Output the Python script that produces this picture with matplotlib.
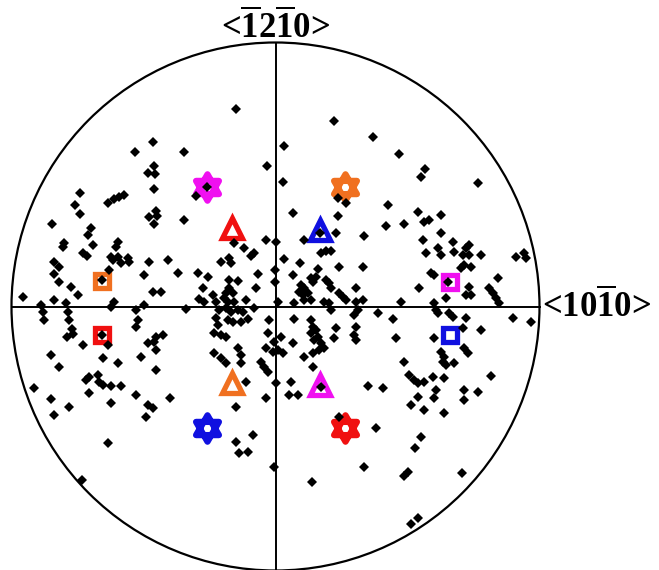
import numpy as np
import matplotlib.pyplot as plt
from matplotlib.path import Path
from matplotlib.patches import Circle

## pole figure, projection units (primitive circle radius R) ##
R = 264

# measured poles, upper half
poles_upper = [
    (-40,198),(-123,165),(-141,155),(-92,155),(-9,141),(-122,141),(-128,134),(-121,133),
    (-122,118),(-80,111),(-196,114),(-152,112),(-157,110),(-162,108),(-168,104),(-201,102),
    (-196,93),(-120,96),(-127,90),(-119,91),(-122,83),(-92,87),(-224,83),(-185,79),
    (-188,72),(-212,64),(-213,60),(-183,62),(-193,54),(-189,51),(-158,65),(-160,60),
    (-165,50),(-158,50),(-163,47),(-148,49),(-155,44),(-147,45),(-167,37),(-222,45),
    (-217,40),(-222,33),(-217,25),(-205,20),(-198,12),(-253,10),(-222,7),(-210,4),
    (-162,5),(-165,0),(-235,2),(-69,120),(-174,27),
    (-42,64),(-32,59),(-22,54),(-25,51),(-10,67),(-55,45),(-47,49),(-45,44),(-127,45),
    (-108,47),(-98,34),(-78,34),(-68,30),(-132,32),(-18,33),(-47,27),(-38,26),(-47,19),
    (-50,14),(-43,14),(-52,9),(-73,19),(-123,15),(-115,15),(-20,19),(-77,8),(-72,5),
    (-63,12),(-60,5),(-48,5),(-42,5),(-30,7),(-132,2),
    (28,67),(60,74),(88,71),(45,54),(50,56),(55,56),(0,65),(8,48),(24,44),(63,40),(87,40),
    (17,32),(42,38),(35,29),(40,30),(37,25),(50,27),(53,24),(55,19),(25,22),(28,19),(23,15),
    (27,12),(32,14),(28,7),(35,7),(63,14),(67,10),(70,7),(80,19),(-1,37),(-1,25),(2,5),
    (18,4),(48,5),(53,4),(80,5),(87,7),(125,5),(44,74),
    (165,74),(147,67),(177,65),(193,62),(190,59),(162,59),(165,52),(150,54),(178,55),
    (187,52),(193,52),(205,52),(240,50),(248,54),(250,49),(188,42),(195,40),(185,39),
    (155,34),(158,32),(143,19),(193,20),(190,12),(195,12),(170,9),(222,29),(213,19),
    (217,14),(220,9),(223,4),(158,4),(172,25),
    (58,186),(8,161),(97,170),(123,153),(149,138),(145,130),(202,124),(7,125),(62,109),
    (70,104),(112,102),(17,94),(62,91),(142,95),(165,92),(148,85),(153,87),(110,81),(128,83),
]

# measured poles, lower half
poles_lower = [
    (-233,-5),(-232,-13),(-208,-5),(-207,-13),(-204,-22),(-209,-30),(-203,-27),(-140,-3),
    (-138,-13),(-140,-20),(-193,-38),(-168,-38),(-225,-48),(-174,-28),
    (-90,-2),(-57,-3),(-50,-1),(-45,-5),(-38,-3),(-33,-5),(-22,-1),(-60,-11),(-58,-18),
    (-48,-13),(-43,-15),(-35,-15),(-28,-12),(-7,-13),(-62,-26),(-55,-28),(-50,-30),
    (-120,-30),(-128,-36),(-122,-35),(-113,-28),(-120,-43),(-8,-26),(-38,-41),(-35,-48),
    (-10,-41),(-3,-45),
    (55,-3),(82,-3),(78,-8),(102,-6),(117,-12),(18,-12),(35,-13),(37,-20),(40,-23),(35,-26),
    (42,-30),(38,-33),(60,-21),(80,-20),(78,-28),(80,-33),(5,-30),(-2,-35),(17,-36),(45,-36),
    (48,-41),(43,-43),(58,-31),(120,-31),(2,-43),(7,-46),(37,-46),(28,-50),(45,-80),
    (160,-3),(162,-6),(173,-6),(177,-10),(190,-11),(187,-21),(205,-23),(237,-11),(255,-15),
    (158,-31),(165,-45),(168,-50),(188,-41),(192,-46),
    (-217,-60),(-173,-51),(-158,-56),(-135,-50),(-120,-63),(-190,-73),(-187,-70),(-178,-68),
    (-177,-75),(-173,-78),(-165,-79),(-155,-79),(-242,-81),(-225,-92),(-222,-108),(-207,-100),
    (-187,-86),(-165,-96),(-140,-88),(-128,-98),(-123,-101),(-130,-110),(-106,-91),(-168,-136),
    (-194,-173),(-62,-46),(-55,-51),(-50,-56),(-35,-56),(-15,-55),(-12,-60),(-8,-65),(-30,-75),
    (-10,-91),(-40,-100),(-40,-135),(-37,-146),(-28,-145),(-23,-128),(-2,-160),
    (37,-60),(15,-75),(13,-88),(22,-88),(0,-76),(92,-79),(107,-81),(63,-110),(100,-121),
    (88,-160),(36,-175),(145,-130),(139,-141),(132,-165),(128,-169),(186,-166),(142,-211),
    (135,-217),(178,-56),(170,-58),(167,-55),(128,-55),(133,-68),(138,-73),(142,-76),
    (148,-75),(157,-70),(168,-71),(215,-69),(160,-83),(158,-91),(142,-90),(135,-98),
    (148,-103),(168,-106),(188,-83),(202,-85),(188,-93),
]

# reference orientations: (x, y, colour, marker)
ref_x = [-69, 69, -69, 69, -44, 44, -44, 44, -174, 174, -174, 174]
ref_y = [120, 120, -121, -121, 79, 77, -76, -78, 26, 25, -28, -28]
ref_col = ['#f010f0', '#f07020', '#1010e0', '#f01010',
           '#f01010', '#1010e0', '#f07020', '#f010f0',
           '#f07020', '#f010f0', '#f01010', '#1010e0']
ref_mk = ['hex', 'hex', 'hex', 'hex', '^', '^', '^', '^', 's', 's', 's', 's']

# six-pointed star built from two triangles
ang = np.deg2rad([90, 210, 330, 270, 30, 150])
verts = [(np.cos(a), np.sin(a)) for a in ang]
hexagram = Path(verts[:3] + [(0, 0)] + verts[3:] + [(0, 0)],
                [Path.MOVETO, Path.LINETO, Path.LINETO, Path.CLOSEPOLY] * 2)

plt.rcParams['mathtext.fontset'] = 'custom'
plt.rcParams['mathtext.rm'] = 'Liberation Serif:bold'

fig = plt.figure(figsize=(6.59, 5.70), dpi=100)
ax = fig.add_axes([0, 0, 1, 1])
ax.set_xlim(-275.5, 383.5)
ax.set_ylim(-263.5, 306.5)
ax.set_aspect('equal')
ax.axis('off')

ax.add_patch(Circle((0, 0), R, fill=False, color='k', lw=1.6, zorder=1))
ax.plot([-R, R], [0, 0], 'k-', lw=1.4, zorder=1)
ax.plot([0, 0], [-R, R], 'k-', lw=1.4, zorder=1)

for x, y, c, m in zip(ref_x, ref_y, ref_col, ref_mk):
    if m == 'hex':
        ax.plot(x, y, marker=hexagram, ms=19, mfc='none', mec=c, mew=4.5, zorder=2)
    elif m == '^':
        ax.plot(x, y, marker='^', ms=15, mfc='none', mec=c, mew=3.8, zorder=2)
    else:
        ax.plot(x, y, marker='s', ms=10, mfc='none', mec=c, mew=3.8, zorder=2)

poles = np.array(poles_upper + poles_lower)
ax.plot(poles[:, 0], poles[:, 1], 'kD', ms=5.0, mew=0, ls='none', zorder=3)

ax.text(0, 279, r'<$\overline{\mathrm{1}}$2$\overline{\mathrm{1}}$0>', ha='center', va='center',
        fontsize=25, fontweight='bold', family='Liberation Serif')
ax.text(267, 0, r'<10$\overline{\mathrm{1}}$0>', ha='left', va='center',
        fontsize=25, fontweight='bold', family='Liberation Serif')

plt.savefig('out.png', dpi=100)
